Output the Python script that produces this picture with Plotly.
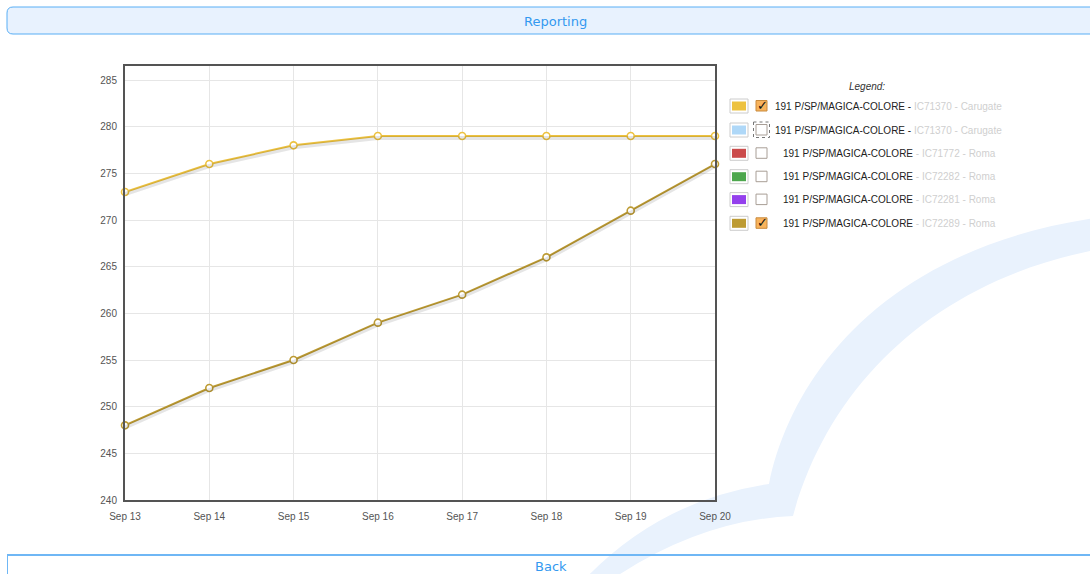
import plotly.graph_objects as go

# ---------------- data ----------------
dates = ["2013-09-13", "2013-09-14", "2013-09-15", "2013-09-16",
         "2013-09-17", "2013-09-18", "2013-09-19", "2013-09-20"]
series_carugate = [273, 276, 278, 279, 279, 279, 279, 279]
series_roma = [248, 252, 255, 259, 262, 266, 271, 276]

legend_names = ["191 P/SP/MAGICA-COLORE - ", "191 P/SP/MAGICA-COLORE - ",
                "191 P/SP/MAGICA-COLORE ", "191 P/SP/MAGICA-COLORE ",
                "191 P/SP/MAGICA-COLORE ", "191 P/SP/MAGICA-COLORE "]
legend_hidden = ["IC71370 - Carugate", "IC71370 - Carugate", "- IC71772 - Roma",
                 "- IC72282 - Roma", "- IC72281 - Roma", "- IC72289 - Roma"]
legend_colors = ["#edc240", "#afd8f8", "#cb4b4b", "#4da74d", "#9440ed", "#bd9b33"]
legend_checked = [True, False, False, False, False, True]

y_range = [240, 286.5]

# ---------------- layout geometry ----------------
W, H = 1090, 574
ML, MR, MT, MB = 125, 375, 66, 74
PW, PH = W - ML - MR, H - MT - MB


def px(x):
    return (x - ML) / PW


def py(y):
    return (H - MB - y) / PH


shadow_px = 2.0
shift = shadow_px * (y_range[1] - y_range[0]) / PH

fig = go.Figure()

for vals, col in [(series_carugate, "#edc240"), (series_roma, "#bd9b33")]:
    fig.add_trace(go.Scatter(x=dates, y=vals, yaxis="y2", mode="lines",
                             line=dict(color="rgba(0,0,0,0.10)", width=4),
                             hoverinfo="skip", showlegend=False))
for vals, col in [(series_carugate, "#edc240"), (series_roma, "#bd9b33")]:
    fig.add_trace(go.Scatter(x=dates, y=vals, mode="lines+markers",
                             line=dict(color=col, width=2),
                             marker=dict(symbol="circle", size=7, color="white",
                                         line=dict(color=col, width=1.6)),
                             showlegend=False, cliponaxis=False))

shapes = []
annotations = []


def pth(points_cmds):
    out = []
    for c in points_cmds:
        if isinstance(c, str):
            out.append(c)
        else:
            out.append(f"{px(c[0]):.5f},{py(c[1]):.5f}")
    return " ".join(out)


# background swoosh
swoosh = pth(["M", (584, 580), "Q", (660, 500), (769, 484),
              "C", (790, 380), (880, 250), (1095, 218),
              "L", (1095, 250),
              "C", (940, 280), (830, 380), (793, 516),
              "Q", (700, 520), (611, 580), "Z"])
shapes.append(dict(type="path", xref="paper", yref="paper", path=swoosh,
                   fillcolor="#e9f2fd", line=dict(width=0), layer="below"))

# top "Reporting" bar with rounded corners
r = 6
x0, x1, y0, y1 = 7, 1100, 7, 34
top_bar = pth(["M", (x0 + r, y0), "L", (x1, y0), "L", (x1, y1), "L", (x0 + r, y1),
               "Q", (x0, y1), (x0, y1 - r), "L", (x0, y0 + r), "Q", (x0, y0), (x0 + r, y0), "Z"])
shapes.append(dict(type="path", xref="paper", yref="paper", path=top_bar,
                   fillcolor="#e8f2fe", line=dict(color="#58aef5", width=1)))
annotations.append(dict(text="Reporting", xref="paper", yref="paper", x=px(555), y=py(21),
                        xanchor="center", yanchor="middle", showarrow=False,
                        font=dict(family="DejaVu Sans", size=13, color="#3399f0")))

# bottom "Back" bar
shapes.append(dict(type="line", xref="paper", yref="paper", x0=px(7), x1=px(1100),
                   y0=py(555), y1=py(555), line=dict(color="#6fb7f5", width=2)))
shapes.append(dict(type="line", xref="paper", yref="paper", x0=px(7.5), x1=px(7.5),
                   y0=py(555), y1=py(580), line=dict(color="#6fb7f5", width=1)))
annotations.append(dict(text="Back", xref="paper", yref="paper", x=px(551), y=py(566),
                        xanchor="center", yanchor="middle", showarrow=False,
                        font=dict(family="DejaVu Sans", size=13, color="#3399f0")))

# legend
annotations.append(dict(text="<i>Legend:</i>", xref="paper", yref="paper", x=px(867), y=py(86),
                        xanchor="center", yanchor="middle", showarrow=False,
                        font=dict(family="Liberation Sans", size=10, color="#333333")))
row_y = [106, 130, 153.3, 176.7, 199.6, 223.3]
text_x = [773, 773, 781, 781, 781, 781]
for i in range(6):
    yc = row_y[i]
    shapes.append(dict(type="rect", xref="paper", yref="paper", x0=px(730), x1=px(748),
                       y0=py(yc - 7), y1=py(yc + 7), fillcolor="white",
                       line=dict(color="#cccccc", width=1)))
    shapes.append(dict(type="rect", xref="paper", yref="paper", x0=px(732), x1=px(746),
                       y0=py(yc - 4.5), y1=py(yc + 4.5), fillcolor=legend_colors[i],
                       line=dict(width=0)))
    if legend_checked[i]:
        shapes.append(dict(type="rect", xref="paper", yref="paper", x0=px(756), x1=px(767),
                           y0=py(yc - 5.5), y1=py(yc + 5), fillcolor="#f8b35c",
                           line=dict(color="#c88a3c", width=1)))
        annotations.append(dict(text="<b>✓</b>", xref="paper", yref="paper", x=px(762), y=py(yc - 1),
                                xanchor="center", yanchor="middle", showarrow=False,
                                font=dict(family="DejaVu Sans", size=13, color="#111111")))
    else:
        shapes.append(dict(type="rect", xref="paper", yref="paper", x0=px(756), x1=px(767),
                           y0=py(yc - 5.5), y1=py(yc + 5), fillcolor="white",
                           line=dict(color="#a89e96", width=1)))
    if i == 1:
        shapes.append(dict(type="rect", xref="paper", yref="paper", x0=px(753.5), x1=px(769.5),
                           y0=py(yc - 8), y1=py(yc + 7.5), fillcolor="rgba(0,0,0,0)",
                           line=dict(color="#777777", width=1, dash="dot")))
    annotations.append(dict(
        text=legend_names[i] + f"<span style='color:#cfcfcf'>{legend_hidden[i]}</span>",
        xref="paper", yref="paper", x=px(text_x[i]), y=py(yc),
        xanchor="left", yanchor="middle", showarrow=False,
        font=dict(family="Liberation Sans", size=10, color="#222222")))

fig.update_layout(
    width=W, height=H,
    margin=dict(l=ML, r=MR, t=MT, b=MB, pad=0),
    paper_bgcolor="white", plot_bgcolor="white",
    showlegend=False,
    shapes=shapes, annotations=annotations,
    xaxis=dict(type="date", range=[dates[0], dates[-1]], tickformat="%b %d",
               dtick=86400000, tick0=dates[0],
               showgrid=True, gridcolor="#e6e6e6", gridwidth=1,
               showline=True, linecolor="#545454", linewidth=2, mirror=True,
               zeroline=False, ticks="", ticklabelstandoff=6,
               tickfont=dict(family="Liberation Sans", size=10, color="#545454")),
    yaxis=dict(range=y_range, dtick=5, tick0=240,
               showgrid=True, gridcolor="#e6e6e6", gridwidth=1,
               showline=True, linecolor="#545454", linewidth=2, mirror=True,
               zeroline=False, ticks="", ticklabelstandoff=4,
               tickfont=dict(family="Liberation Sans", size=10, color="#545454")),
    yaxis2=dict(range=[y_range[0] + shift, y_range[1] + shift], overlaying="y",
                visible=False, showgrid=False),
)

fig.write_html("out.html", config={"displayModeBar": False},
               post_script="document.body.style.margin='0';document.body.style.overflow='hidden';")
